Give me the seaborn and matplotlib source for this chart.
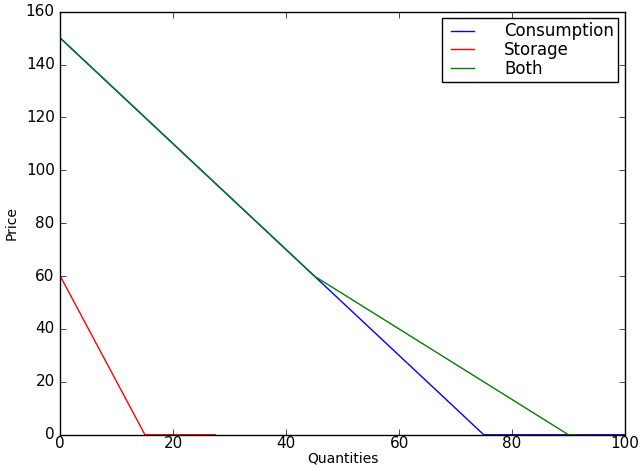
import matplotlib
matplotlib.use("Agg")
import matplotlib.pyplot as plt
import pandas as pd
import seaborn as sns

plt.style.use('classic')

# quantities / prices
cons_q = [0, 45, 75, 100]
cons_p = [150, 60, 0, 0]
stor_q = [0, 0, 15, 27.5]
stor_p = [150, 60, 0, 0]
both_q = [0, 45, 90, 91.5]
both_p = [150, 60, 0, 0]

series = [('Consumption', cons_q, cons_p, 'b'),
          ('Storage', stor_q, stor_p, 'r'),
          ('Both', both_q, both_p, 'g')]

fig, ax = plt.subplots(figsize=(6.41, 4.65), dpi=100)
fig.subplots_adjust(left=0.094, right=0.975, top=0.975, bottom=0.065)

for name, q, p, c in series:
    df = pd.DataFrame({'q': q, 'p': p})
    sns.lineplot(data=df, x='q', y='p', sort=False, estimator=None,
                 color=c, label=name, ax=ax, linewidth=1)

ax.set_xlim(0, 100)
ax.set_ylim(0, 160)
ax.set_xticks(range(0, 101, 20))
ax.set_yticks(range(0, 161, 20))
ax.tick_params(labelsize=11)
ax.tick_params(axis='x', pad=1)
ax.set_xlabel('Quantities', fontsize=10, labelpad=0)
ax.set_ylabel('Price', fontsize=10)
ax.legend(loc='upper right', fontsize=12, labelspacing=0.05, borderpad=0.25,
          handlelength=2.0, handletextpad=1.5, borderaxespad=0.4)

fig.savefig('out.png', dpi=100)
